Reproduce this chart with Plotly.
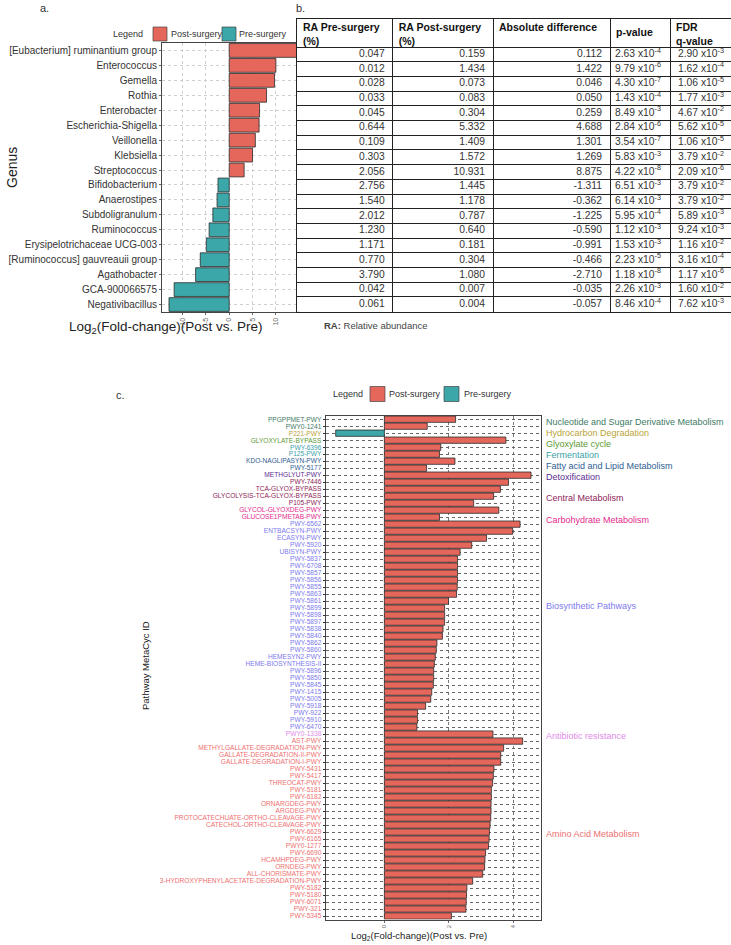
import plotly.graph_objects as go

W, H = 731, 945
FONT = "Liberation Sans, Arial, sans-serif"

# ---------------- Panel a data ----------------
genus = ["[Eubacterium] ruminantium group", "Enterococcus", "Gemella", "Rothia", "Enterobacter",
         "Escherichia-Shigella", "Veillonella", "Klebsiella", "Streptococcus", "Bifidobacterium",
         "Anaerostipes", "Subdoligranulum", "Ruminococcus", "Erysipelotrichaceae UCG-003",
         "[Ruminococcus] gauvreauii group", "Agathobacter", "GCA-900066575", "Negativibacillus"]
genus_log2fc = [15.6, 10.0, 9.7, 8.0, 6.5, 6.4, 5.6, 5.0, 3.2,
                -2.4, -2.6, -3.5, -4.3, -4.9, -6.2, -7.2, -11.8, -12.9]
genus_ticks = [-10, -5, 0, 5, 10]

# ---------------- Panel b data ----------------
ra_pre = [0.047, 0.012, 0.028, 0.033, 0.045, 0.644, 0.109, 0.303, 2.056,
          2.756, 1.540, 2.012, 1.230, 1.171, 0.770, 3.790, 0.042, 0.061]
ra_post = [0.159, 1.434, 0.073, 0.083, 0.304, 5.332, 1.409, 1.572, 10.931,
           1.445, 1.178, 0.787, 0.640, 0.181, 0.304, 1.080, 0.007, 0.004]
abs_diff = [0.112, 1.422, 0.046, 0.050, 0.259, 4.688, 1.301, 1.269, 8.875,
            -1.311, -0.362, -1.225, -0.590, -0.991, -0.466, -2.710, -0.035, -0.057]
p_mant = [2.63, 9.79, 4.30, 1.43, 8.49, 2.84, 3.54, 5.83, 4.22,
          6.51, 6.14, 5.95, 1.12, 1.53, 2.23, 1.18, 2.26, 8.46]
p_exp = [-4, -6, -7, -4, -3, -6, -7, -3, -8, -3, -3, -4, -3, -3, -5, -8, -3, -4]
q_mant = [2.90, 1.62, 1.06, 1.77, 4.67, 5.62, 1.06, 3.79, 2.09,
          3.79, 3.79, 5.89, 9.24, 1.16, 3.16, 1.17, 1.60, 7.62]
q_exp = [-3, -4, -5, -3, -2, -5, -5, -2, -6, -2, -2, -3, -3, -2, -4, -6, -2, -3]
table_headers = ["RA Pre-surgery<br>(%)", "RA Post-surgery<br>(%)", "Absolute difference",
                 "p-value", "FDR<br>q-value"]

# ---------------- Panel c data ----------------
pathways = ["PPGPPMET-PWY", "PWY0-1241", "P221-PWY", "GLYOXYLATE-BYPASS", "PWY-6396", "P125-PWY",
            "KDO-NAGLIPASYN-PWY", "PWY-5177", "METHGLYUT-PWY", "PWY-7446", "TCA-GLYOX-BYPASS",
            "GLYCOLYSIS-TCA-GLYOX-BYPASS", "P105-PWY", "GLYCOL-GLYOXDEG-PWY", "GLUCOSE1PMETAB-PWY",
            "PWY-6562", "ENTBACSYN-PWY", "ECASYN-PWY", "PWY-5920", "UBISYN-PWY", "PWY-5837",
            "PWY-6708", "PWY-5857", "PWY-5856", "PWY-5855", "PWY-5863", "PWY-5861", "PWY-5899",
            "PWY-5898", "PWY-5897", "PWY-5838", "PWY-5840", "PWY-5862", "PWY-5860", "HEMESYN2-PWY",
            "HEME-BIOSYNTHESIS-II", "PWY-5896", "PWY-5850", "PWY-5845", "PWY-1415", "PWY-5005",
            "PWY-5918", "PWY-922", "PWY-5910", "PWY-6470", "PWY0-1338", "AST-PWY",
            "METHYLGALLATE-DEGRADATION-PWY", "GALLATE-DEGRADATION-II-PWY", "GALLATE-DEGRADATION-I-PWY",
            "PWY-5431", "PWY-5417", "THREOCAT-PWY", "PWY-5181", "PWY-6182", "ORNARGDEG-PWY",
            "ARGDEG-PWY", "PROTOCATECHUATE-ORTHO-CLEAVAGE-PWY", "CATECHOL-ORTHO-CLEAVAGE-PWY",
            "PWY-6629", "PWY-6165", "PWY0-1277", "PWY-6690", "HCAMHPDEG-PWY", "ORNDEG-PWY",
            "ALL-CHORISMATE-PWY", "3-HYDROXYPHENYLACETATE-DEGRADATION-PWY", "PWY-5182", "PWY-5180",
            "PWY-6071", "PWY-321", "PWY-5345"]
pathway_log2fc = [2.21, 1.33, -1.51, 3.77, 1.75, 1.71, 2.19, 1.31, 4.55, 3.85, 3.60, 3.39, 2.77, 3.55, 1.71,
                  4.21, 3.98, 3.17, 2.71, 2.35, 2.27, 2.27, 2.27, 2.27, 2.26, 2.24, 1.99, 1.87, 1.87, 1.87,
                  1.82, 1.80, 1.63, 1.61, 1.58, 1.55, 1.53, 1.53, 1.52, 1.47, 1.44, 1.28, 1.03, 1.03, 1.01,
                  3.37,
                  4.29, 3.70, 3.61, 3.61, 3.40, 3.38, 3.36, 3.32, 3.32, 3.31, 3.31, 3.30, 3.28, 3.26, 3.25,
                  3.23, 3.14, 3.12, 3.11, 3.05, 2.74, 2.56, 2.55, 2.54, 2.53, 2.08]
group_names = ["Nucleotide and Sugar Derivative Metabolism", "Hydrocarbon Degradation", "Glyoxylate cycle",
               "Fermentation", "Fatty acid and Lipid Metabolism", "Detoxification", "Central Metabolism",
               "Carbohydrate Metabolism", "Biosynthetic Pathways", "Antibiotic resistance",
               "Amino Acid Metabolism"]
group_sizes = [2, 1, 1, 2, 2, 1, 4, 2, 30, 1, 26]
group_colors = ["#3E7B66", "#B9A537", "#5E9A35", "#3C9FAA", "#2F5E93", "#5A2D91", "#8E2458",
                "#E42A8C", "#7D79EE", "#E08AE8", "#EE7070"]
group_label_rows = [0.4, 2.0, 3.5, 5.05, 6.65, 8.2, 11.25, 14.35, 26.75, 45.3, 59.3]
pathway_ticks = [0, 2, 4]
legend_labels = ["Post-surgery", "Pre-surgery"]

RED = "#E5675C"
TEAL = "#3BA7A9"
OUTLINE = "#2b2b2b"


def px(x):
    return x / W


def py(y):
    return 1 - y / H


fig = go.Figure()

# ---------- Panel a bars ----------
post_a = [(g, v) for g, v in zip(genus, genus_log2fc) if v > 0]
pre_a = [(g, v) for g, v in zip(genus, genus_log2fc) if v <= 0]
fig.add_trace(go.Bar(x=[v for _, v in post_a], y=[g for g, _ in post_a], orientation="h",
                     name=legend_labels[0], marker=dict(color=RED, line=dict(color=OUTLINE, width=0.8)),
                     width=0.92, xaxis="x", yaxis="y", showlegend=False))
fig.add_trace(go.Bar(x=[v for _, v in pre_a], y=[g for g, _ in pre_a], orientation="h",
                     name=legend_labels[1], marker=dict(color=TEAL, line=dict(color=OUTLINE, width=0.8)),
                     width=0.92, xaxis="x", yaxis="y", showlegend=False))

# ---------- Panel c bars ----------
idx = list(range(len(pathways)))
post_c = [(i, v) for i, v in zip(idx, pathway_log2fc) if v > 0]
pre_c = [(i, v) for i, v in zip(idx, pathway_log2fc) if v <= 0]
fig.add_trace(go.Bar(x=[v for _, v in post_c], y=[i for i, _ in post_c], orientation="h",
                     name=legend_labels[0], marker=dict(color=RED, line=dict(color=OUTLINE, width=0.8)),
                     width=0.9, xaxis="x2", yaxis="y2", showlegend=False))
fig.add_trace(go.Bar(x=[v for _, v in pre_c], y=[i for i, _ in pre_c], orientation="h",
                     name=legend_labels[1], marker=dict(color=TEAL, line=dict(color=OUTLINE, width=0.8)),
                     width=0.9, xaxis="x2", yaxis="y2", showlegend=False))

# ---------- Panel b table (drawn on its own axes: columns in px units, rows in row units) ----------
col_widths = [95.7, 100.3, 117, 60, 60.5]
col_pad = [8, 8, 8, 5, 8]
header_rows = 28 / 14.7
col_edges = [0.0]
for w in col_widths:
    col_edges.append(col_edges[-1] + w)
n_rows = len(ra_pre)
row_edges = [-header_rows] + list(range(n_rows + 1))


def sci(m, e):
    return f"{m:.2f} x10<sup>{e}</sup>"


table_cols = [[f"{v:.3f}" for v in ra_pre],
              [f"{v:.3f}" for v in ra_post],
              [f"{v:.3f}" for v in abs_diff],
              [sci(m, e) for m, e in zip(p_mant, p_exp)],
              [sci(m, e) for m, e in zip(q_mant, q_exp)]]
col_right_aligned = [True, True, True, False, False]
row_mid = [r + 0.5 for r in range(n_rows)]
for c, (vals, right) in enumerate(zip(table_cols, col_right_aligned)):
    xpos = col_edges[c + 1] - col_pad[c] if right else col_edges[c] + col_pad[c]
    fig.add_trace(go.Scatter(x=[xpos] * n_rows, y=row_mid, mode="text", text=vals,
                             textposition="middle left" if right else "middle right",
                             textfont=dict(family=FONT, size=10.3, color="#333"),
                             xaxis="x3", yaxis="y3", hoverinfo="skip", showlegend=False,
                             cliponaxis=False))
header_y = [-header_rows + 0.3, -header_rows + 0.3, -header_rows + 0.3, -header_rows / 2,
            -header_rows + 0.3]
header_pos = ["bottom right", "bottom right", "bottom right", "middle right", "bottom right"]
fig.add_trace(go.Scatter(x=[e + 6 for e in col_edges[:-1]], y=header_y, mode="text",
                         text=[f"<b>{h}</b>" for h in table_headers], textposition=header_pos,
                         textfont=dict(family=FONT, size=10.5, color="#111"),
                         xaxis="x3", yaxis="y3", hoverinfo="skip", showlegend=False,
                         cliponaxis=False))

# tick text colours for panel c
row_colors = []
for c, n in zip(group_colors, group_sizes):
    row_colors += [c] * n
ticktext_c = [f"<span style='color:{c}'>{p}</span>" for p, c in zip(pathways, row_colors)]


def note(text, x, y, size, color="#222", angle=0, xanchor="center"):
    return dict(text=text, x=px(x), y=py(y), xref="paper", yref="paper", showarrow=False,
                xanchor=xanchor, yanchor="middle", textangle=angle,
                font=dict(size=size, color=color))


annotations = [
    note("a.", 44, 8, 11, "#333"),
    note("b.", 300.5, 8, 11, "#333"),
    note("c.", 120, 395, 11, "#333"),
    note("Genus", 12, 168, 14, angle=-90),
    note("Log<sub>2</sub>(Fold-change)(Post vs. Pre)", 166, 327, 13.5),
    note("<b>RA:</b> Relative abundance", 322, 325, 9.5, "#444", xanchor="left"),
    note("Pathway MetaCyc ID", 145, 666, 9.5, angle=-90),
    note("Log<sub>2</sub>(Fold-change)(Post vs. Pre)", 419, 936, 9.5),
]
for name, c, r in zip(group_names, group_colors, group_label_rows):
    annotations.append(dict(text=name, x=px(544), y=r, xref="paper", yref="y2", xanchor="left",
                            showarrow=False, font=dict(size=9, color=c)))

# legend keys (drawn like the reference's ggplot legends)
shapes = []
legend_specs = [  # (title_x, y_center, [key_left...], [label_left...], key size)
    (128, 34, [153, 222], [169, 237], 14),
    (348, 394, [370, 444], [387, 462], 15),
]
for tx, yc, keys, labs, ks in legend_specs:
    annotations.append(note("Legend", tx, yc, 9, "#333"))
    for kx, lx, col, lab in zip(keys, labs, [RED, TEAL], legend_labels):
        shapes.append(dict(type="rect", xref="paper", yref="paper", x0=px(kx), x1=px(kx + ks),
                           y0=py(yc + ks / 2), y1=py(yc - ks / 2), fillcolor=col,
                           line=dict(color="#444", width=0.7)))
        annotations.append(note(lab, lx, yc, 9, "#333", xanchor="left"))

fig.update_layout(
    width=W, height=H, margin=dict(l=0, r=0, t=0, b=0, autoexpand=False),
    paper_bgcolor="white", plot_bgcolor="white",
    font=dict(family=FONT, color="#333"),
    barmode="relative", bargap=0.05, showlegend=False,
    xaxis=dict(domain=[px(162), px(298)], range=[-14.4, 14.74], tickvals=genus_ticks,
               ticktext=[str(t) for t in genus_ticks], tickangle=-90, automargin=False,
               tickfont=dict(size=7, color="#666"), showgrid=True, gridcolor="#cfcfcf",
               griddash="dot", gridwidth=0.8, zeroline=False, showline=True, linecolor="#444",
               linewidth=1, mirror=True, ticks="outside", ticklen=2, tickcolor="#666", anchor="y"),
    yaxis=dict(domain=[py(312), py(43)], type="category", categoryorder="array",
               categoryarray=genus, autorange="reversed", tickfont=dict(size=10, color="#333"),
               showgrid=True, gridcolor="#cfcfcf", griddash="dot", gridwidth=0.8, automargin=False,
               showline=True, linecolor="#444", linewidth=1, mirror=True, ticks="outside",
               ticklen=2, tickcolor="#666", anchor="x"),
    xaxis2=dict(domain=[px(325.7), px(540.7)], range=[-1.82, 4.85], tickvals=pathway_ticks,
                ticktext=[str(t) for t in pathway_ticks], tickangle=-90, automargin=False,
                tickfont=dict(size=6, color="#666"), showgrid=True, gridcolor="#777",
                griddash="dot", gridwidth=0.8, zeroline=False, showline=True, linecolor="#444",
                linewidth=1, mirror=True, ticks="outside", ticklen=2, tickcolor="#666", anchor="y2"),
    yaxis2=dict(domain=[py(919.5), py(415.7)], range=[71.5, -0.5], tickmode="array",
                tickvals=idx, ticktext=ticktext_c, tickfont=dict(size=6.6), automargin=False,
                showgrid=True, gridcolor="#666", griddash="dot", gridwidth=0.7, zeroline=False,
                showline=True, linecolor="#444", linewidth=1, mirror=True, ticks="outside",
                ticklen=2, tickcolor="#333", anchor="x2"),
    xaxis3=dict(domain=[px(297), px(297 + col_edges[-1])], range=[0, col_edges[-1]],
                tickvals=col_edges, showticklabels=False, ticks="", showgrid=True,
                gridcolor="#222", gridwidth=1.2, zeroline=False, showline=True, linecolor="#222",
                linewidth=1.4, mirror=True, automargin=False, fixedrange=True, anchor="y3"),
    yaxis3=dict(domain=[py(311.7), py(19)], range=[n_rows, -header_rows],
                tickvals=row_edges, showticklabels=False, ticks="", showgrid=True,
                gridcolor="#222", gridwidth=1.2, zeroline=False, showline=True, linecolor="#222",
                linewidth=1.4, mirror=True, automargin=False, fixedrange=True, anchor="x3"),
    annotations=annotations,
    shapes=shapes,
)

fig.write_html("out.html", config={"displayModeBar": False},
               post_script="document.body.style.margin='0px';")
